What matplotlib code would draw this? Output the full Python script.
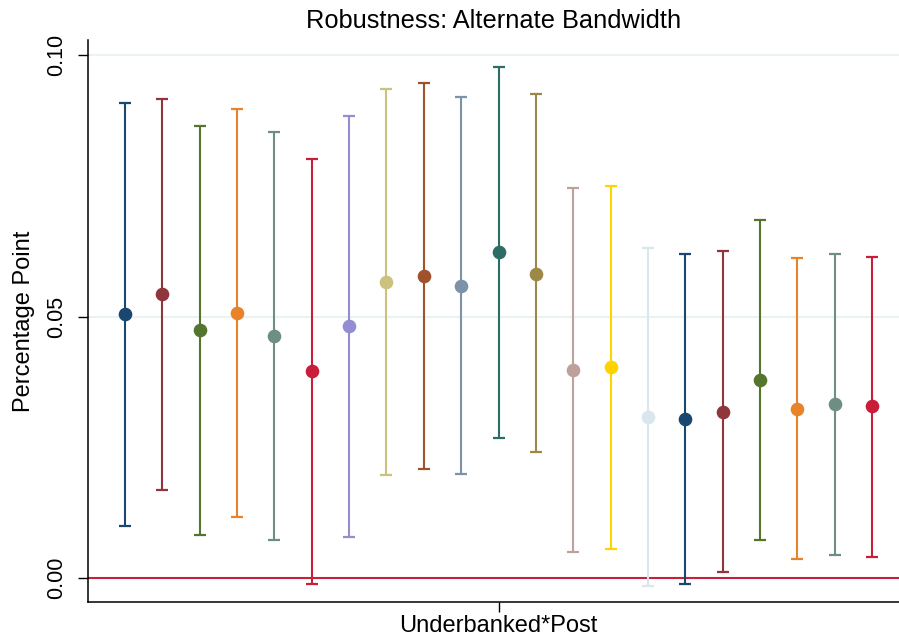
import matplotlib
matplotlib.use("Agg")
import matplotlib.pyplot as plt

plt.rcParams['font.family'] = ['Liberation Sans', 'DejaVu Sans']

positions = list(range(1, 22))
estimates = [0.0505, 0.0544, 0.0474, 0.0507, 0.0462, 0.0395, 0.0481, 0.0566, 0.0578, 0.0559,
             0.0623, 0.0582, 0.0397, 0.0403, 0.0307, 0.0304, 0.0318, 0.0378, 0.0324, 0.0332, 0.0328]
upper = [0.0908, 0.0917, 0.0865, 0.0897, 0.0853, 0.0802, 0.0884, 0.0936, 0.0947, 0.0920,
         0.0978, 0.0925, 0.0745, 0.0750, 0.0631, 0.0619, 0.0626, 0.0684, 0.0612, 0.0620, 0.0614]
lower = [0.0100, 0.0169, 0.0083, 0.0116, 0.0072, -0.0011, 0.0078, 0.0196, 0.0209, 0.0198,
         0.0268, 0.0240, 0.0049, 0.0056, -0.0016, -0.0011, 0.0011, 0.0072, 0.0036, 0.0044, 0.0041]
colors = ['#1a476f', '#90353b', '#55752f', '#e8832a', '#6e8e84', '#c81e3a', '#938dd2',
          '#cac27e', '#a0522d', '#7b92a8', '#2d6d66', '#9c8847', '#bfa19c', '#ffd200',
          '#d9e6eb', '#1a476f', '#90353b', '#55752f', '#e8832a', '#6e8e84', '#c81e3a']
ytick_vals = [0.0, 0.05, 0.10]
ytick_labels = ['0.00', '0.05', '0.10']
xtick_pos = [11]
xtick_labels = ['Underbanked*Post']

fig = plt.figure(figsize=(8.99, 6.41), dpi=100)
ax = fig.add_axes([88/899, 39/641, 1 - 88/899, (602-40)/641])

for y in [0.05, 0.10]:
    ax.axhline(y, color='#eaf2f3', lw=1.5, zorder=0)
ax.axhline(0, color='#c8203a', lw=1.5, zorder=1)

for x, e, lo, hi, c in zip(positions, estimates, lower, upper, colors):
    ax.errorbar(x, e, yerr=[[e - lo], [hi - e]], fmt='o', color=c, ecolor=c,
                elinewidth=1.5, capsize=4, capthick=1.6, markersize=8.8, zorder=3)

ax.set_xlim(0.01, 21.72)
ax.set_ylim(-0.0046, 0.1029)
ax.set_yticks(ytick_vals)
ax.set_yticklabels(ytick_labels, rotation=90, va='center', fontsize=15.5)
ax.set_xticks(xtick_pos)
ax.set_xticklabels(xtick_labels, fontsize=17)
ax.tick_params(axis='y', length=7.2, width=1, pad=8)
ax.tick_params(axis='x', length=7.2, width=1, pad=2)
for s in ['top', 'right']:
    ax.spines[s].set_visible(False)
for s in ['left', 'bottom']:
    ax.spines[s].set_linewidth(1.1)
ax.set_ylabel('Percentage Point', fontsize=17, labelpad=8)
ax.set_title('Robustness: Alternate Bandwidth', fontsize=18.3, pad=9)

fig.savefig('out.png', dpi=100)
